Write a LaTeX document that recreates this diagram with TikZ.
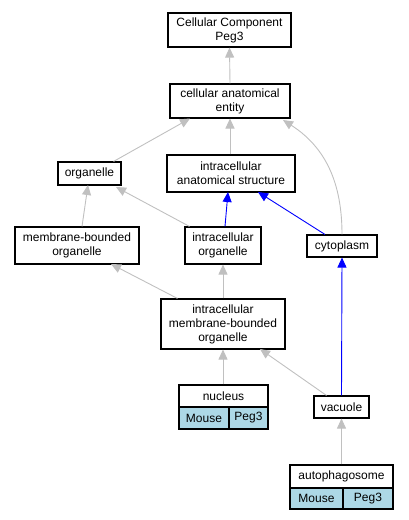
\documentclass[tikz,border=0pt]{standalone}
\usepackage{fontspec}
\setmainfont{Liberation Sans}
\usetikzlibrary{arrows.meta}
\definecolor{edgegray}{RGB}{192,192,192}
\definecolor{cellblue}{RGB}{173,216,230}
\tikzset{
  box/.style={draw=black, line width=1.1pt, fill=white, inner sep=0pt, align=center, font=\fontsize{12}{14}\selectfont},
  cell/.style={draw=black, line width=1.1pt, fill=cellblue, inner sep=0pt, font=\fontsize{12}{14}\selectfont},
  isa/.style={draw=edgegray, line width=0.9pt, -{Triangle[length=10pt,width=9pt]}},
  partof/.style={draw=blue, line width=0.9pt, -{Triangle[length=10pt,width=9pt]}}
}
\begin{document}
\begin{tikzpicture}[x=1pt,y=-1pt]
\useasboundingbox (0,0) rectangle (409,520);
% nodes
\node[box, minimum width=123pt, minimum height=34pt] (ccp) at (229.5,30) {Cellular Component\\Peg3};
\node[box, minimum width=120pt, minimum height=34pt] (cae) at (230,101) {cellular anatomical\\entity};
\node[box, minimum width=63pt, minimum height=23pt] (org) at (89.5,173.5) {organelle};
\node[box, minimum width=128pt, minimum height=37pt] (ias) at (231,173.5) {intracellular\\anatomical structure};
\node[box, minimum width=124pt, minimum height=37pt] (mbo) at (77,245.5) {membrane-bounded\\organelle};
\node[box, minimum width=76pt, minimum height=37pt] (io) at (223,245.5) {intracellular\\organelle};
\node[box, minimum width=70pt, minimum height=22pt] (cyt) at (342,246) {cytoplasm};
\node[box, minimum width=124pt, minimum height=50pt] (imbo) at (223,324) {intracellular\\membrane-bounded\\organelle};
\node[box, minimum width=55pt, minimum height=22pt] (vac) at (341.5,407) {vacuole};
% nucleus table
\node[box, minimum width=89pt, minimum height=22pt] (nuc) at (223.5,396) {nucleus};
\node[cell, minimum width=50pt, minimum height=22pt] (nucm) at (204,418) {Mouse};
\node[cell, minimum width=39pt, minimum height=22pt] (nucp) at (248.5,418) {Peg3};
% autophagosome table
\node[box, minimum width=103pt, minimum height=23pt] (aut) at (341.5,476.5) {autophagosome};
\node[cell, minimum width=53pt, minimum height=21pt] (autm) at (316.5,498.5) {Mouse};
\node[cell, minimum width=50pt, minimum height=21pt] (autp) at (368,498.5) {Peg3};
% edges
\draw[isa] (cae.north) -- (ccp.south);
\draw[isa] (org.north east) ++(-8,0) coordinate (o1) -- (190,118.5);
\draw[isa] (ias.north) ++(-1,0) -- (230,118.5);
\draw[isa] (cyt.north) .. controls (342,190) and (330,150) .. (283,120);
\draw[isa] (mbo.north) ++(5,0) -- (88,185);
\draw[isa] (io.north west) ++(5,0) -- (116,187);
\draw[partof] (io.north) ++(2,0) -- (228,192);
\draw[partof] (cyt.north) ++(-17,0) -- (258,192);
\draw[isa] (imbo.north west) ++(17,0) -- (111,264);
\draw[isa] (imbo.north) -- (io.south);
\draw[partof] (vac.north) -- (cyt.south);
\draw[isa] (nuc.north) ++(-0.5,0) -- (imbo.south);
\draw[isa] (vac.north) ++(-15,0) -- (260,349);
\draw[isa] (aut.north) -- (vac.south);
\end{tikzpicture}
\end{document}
